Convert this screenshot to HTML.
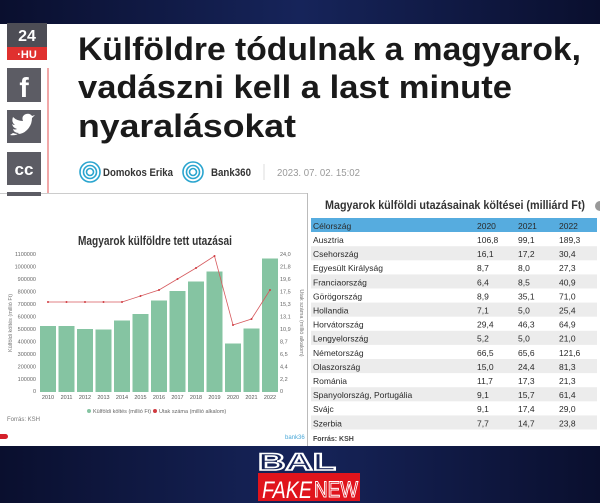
<!DOCTYPE html>
<html><head><meta charset="utf-8"><style>
html,body{margin:0;padding:0;background:#0b1230;}
svg{display:block}
</style></head><body>
<svg width="600" height="503" viewBox="0 0 600 503" xmlns="http://www.w3.org/2000/svg" font-family="Liberation Sans, sans-serif">
<defs>
<linearGradient id="bg" x1="0" y1="0" x2="1" y2="0">
<stop offset="0" stop-color="#0a0f2e"/><stop offset="0.5" stop-color="#16245a"/><stop offset="1" stop-color="#0a0f2e"/>
</linearGradient>
</defs>
<rect width="600" height="503" fill="url(#bg)"/>
<rect x="0" y="24" width="600" height="170" fill="#fff"/>
<rect x="7" y="23" width="40" height="24" fill="#4d4d55"/>
<text x="27" y="41" font-size="16" font-weight="bold" fill="#fff" text-anchor="middle">24</text>
<rect x="7" y="47" width="40" height="13" fill="#e0312f"/>
<text x="27" y="58" font-size="11" font-weight="bold" fill="#fff" text-anchor="middle">·HU</text>
<line x1="48" y1="68" x2="48" y2="194" stroke="#e35050" stroke-width="1"/>
<rect x="7" y="68" width="34" height="34" fill="#5c5c64"/>
<text x="24" y="97" font-size="28" font-weight="bold" fill="#fff" text-anchor="middle">f</text>
<rect x="7" y="110" width="34" height="33" fill="#5c5c64"/>
<path d="M13 133 q8 3 14 -3 q5 -5 5 -12 l3 -3 -3 1 q-2 -3 -6 -2 q-5 2 -3 7 q-6 0 -10 -4 q-2 5 2 8 q-2 0 -3 -1 q1 4 5 5 q-2 1 -4 0 q1 4 6 4 q-3 3 -9 2z" fill="#fff"/>
<rect x="7" y="152" width="34" height="33" fill="#5c5c64"/>
<text x="24" y="175" font-size="17" font-weight="bold" fill="#fff" text-anchor="middle">cc</text>
<rect x="7" y="192" width="34" height="2" fill="#5c5c64"/>
<g font-size="32" font-weight="bold" fill="#1a1a1a">
<text x="78" y="60" textLength="503" lengthAdjust="spacingAndGlyphs">Külföldre tódulnak a magyarok,</text>
<text x="78" y="98" textLength="434" lengthAdjust="spacingAndGlyphs">vadászni kell a last minute</text>
<text x="78" y="137" textLength="218" lengthAdjust="spacingAndGlyphs">nyaralásokat</text>
</g>
<g fill="none" stroke="#2aa5cf" stroke-width="1.6">
<circle cx="90" cy="172" r="10"/><circle cx="90" cy="172" r="6.5"/><circle cx="90" cy="172" r="3.5"/>
<circle cx="193" cy="172" r="10"/><circle cx="193" cy="172" r="6.5"/><circle cx="193" cy="172" r="3.5"/>
</g>
<text x="103" y="176" font-size="11" font-weight="bold" fill="#333" textLength="70" lengthAdjust="spacingAndGlyphs">Domokos Erika</text>
<text x="211" y="176" font-size="11" font-weight="bold" fill="#333" textLength="40" lengthAdjust="spacingAndGlyphs">Bank360</text>
<line x1="264" y1="164" x2="264" y2="180" stroke="#ddd"/>
<text x="277" y="176" font-size="10.5" fill="#999" textLength="83" lengthAdjust="spacingAndGlyphs">2023. 07. 02. 15:02</text>

<rect x="0" y="193" width="308" height="253" fill="#fff"/>
<line x1="0" y1="193.5" x2="600" y2="193.5" stroke="#ccc"/>
<rect x="7" y="193" width="34" height="3" fill="#5c5c64"/>
<text x="155" y="245" font-size="13" font-weight="bold" fill="#333" text-anchor="middle" textLength="154" lengthAdjust="spacingAndGlyphs">Magyarok külföldre tett utazásai</text>
<g font-size="5.5" fill="#666" text-anchor="end">
<text x="36" y="256">1100000</text><text x="36" y="268.5">1000000</text><text x="36" y="281">900000</text><text x="36" y="293.5">800000</text><text x="36" y="306">700000</text><text x="36" y="318.5">600000</text><text x="36" y="331">500000</text><text x="36" y="343.5">400000</text><text x="36" y="356">300000</text><text x="36" y="368.5">200000</text><text x="36" y="381">100000</text><text x="36" y="393">0</text>
</g>
<g font-size="5.5" fill="#666">
<text x="280" y="256">24,0</text><text x="280" y="268.5">21,8</text><text x="280" y="281">19,6</text><text x="280" y="293.5">17,5</text><text x="280" y="306">15,3</text><text x="280" y="318.5">13,1</text><text x="280" y="331">10,9</text><text x="280" y="343.5">8,7</text><text x="280" y="356">6,5</text><text x="280" y="368.5">4,4</text><text x="280" y="381">2,2</text><text x="280" y="393">0</text>
</g>
<text transform="translate(12,323) rotate(-90)" font-size="5.5" fill="#777" text-anchor="middle">Külföldi költés (millió Ft)</text>
<text transform="translate(300,323) rotate(90)" font-size="5.5" fill="#777" text-anchor="middle">Utak száma (millió alkalom)</text>
<g fill="#85c4a2">
<rect x="40" y="326" width="16" height="66"/>
<rect x="58.5" y="326" width="16" height="66"/>
<rect x="77" y="329" width="16" height="63"/>
<rect x="95.5" y="329.5" width="16" height="62.5"/>
<rect x="114" y="320.5" width="16" height="71.5"/>
<rect x="132.5" y="314" width="16" height="78"/>
<rect x="151" y="300.5" width="16" height="91.5"/>
<rect x="169.5" y="291" width="16" height="101"/>
<rect x="188" y="281.5" width="16" height="110.5"/>
<rect x="206.5" y="271.5" width="16" height="120.5"/>
<rect x="225" y="343.5" width="16" height="48.5"/>
<rect x="243.5" y="328.5" width="16" height="63.5"/>
<rect x="262" y="258.5" width="16" height="133.5"/>
</g>
<polyline points="48,302 66.5,302 85,302 103.5,302 122,302 140.5,296 159,290 177.5,279 196,268 214.5,256 233,325 251.5,319 270,290" fill="none" stroke="#d65a5e" stroke-width="0.8"/>
<g fill="#d03a40">
<circle cx="48" cy="302" r="1"/><circle cx="66.5" cy="302" r="1"/><circle cx="85" cy="302" r="1"/><circle cx="103.5" cy="302" r="1"/><circle cx="122" cy="302" r="1"/><circle cx="140.5" cy="296" r="1"/><circle cx="159" cy="290" r="1"/><circle cx="177.5" cy="279" r="1"/><circle cx="196" cy="268" r="1"/><circle cx="214.5" cy="256" r="1"/><circle cx="233" cy="325" r="1"/><circle cx="251.5" cy="319" r="1"/><circle cx="270" cy="290" r="1"/>
</g>
<g font-size="5.5" fill="#555" text-anchor="middle">
<text x="48" y="399">2010</text><text x="66.5" y="399">2011</text><text x="85" y="399">2012</text><text x="103.5" y="399">2013</text><text x="122" y="399">2014</text><text x="140.5" y="399">2015</text><text x="159" y="399">2016</text><text x="177.5" y="399">2017</text><text x="196" y="399">2018</text><text x="214.5" y="399">2019</text><text x="233" y="399">2020</text><text x="251.5" y="399">2021</text><text x="270" y="399">2022</text>
</g>
<circle cx="89" cy="411" r="2" fill="#85c4a2"/>
<text x="93" y="413" font-size="5.5" fill="#666">Külföldi költés (millió Ft)</text>
<circle cx="155" cy="411" r="2" fill="#d03a40"/>
<text x="159" y="413" font-size="5.5" fill="#666">Utak száma (millió alkalom)</text>
<text x="7" y="421" font-size="6" fill="#777">Forrás: KSH</text>
<rect x="-4" y="434" width="12" height="5" rx="2.5" fill="#d4202a"/>
<text x="285" y="439" font-size="6" fill="#4aa8d8">bank36</text>

<rect x="308" y="193" width="292" height="253" fill="#fff"/>
<line x1="307.5" y1="193" x2="307.5" y2="446" stroke="#bbb"/>
<circle cx="600" cy="206" r="5" fill="#999"/>
<text x="325" y="209" font-size="11.5" font-weight="bold" fill="#333" textLength="260" lengthAdjust="spacingAndGlyphs">Magyarok külföldi utazásainak költései (milliárd Ft)</text>
<rect x="311" y="218" width="286" height="14" fill="#56acdf"/>
<g font-size="8.5" fill="#2a2a2a">
<text x="313" y="229">Célország</text><text x="477" y="229">2020</text><text x="518" y="229">2021</text><text x="559" y="229">2022</text>
</g>
<g fill="#ececec">
<rect x="311" y="246.2" width="286" height="14.1"/>
<rect x="311" y="274.4" width="286" height="14.1"/>
<rect x="311" y="302.6" width="286" height="14.1"/>
<rect x="311" y="330.8" width="286" height="14.1"/>
<rect x="311" y="359" width="286" height="14.1"/>
<rect x="311" y="387.2" width="286" height="14.1"/>
<rect x="311" y="415.4" width="286" height="14.1"/>
</g>
<g font-size="8.5" fill="#2a2a2a">
<text x="313" y="243">Ausztria</text><text x="477" y="243">106,8</text><text x="518" y="243">99,1</text><text x="559" y="243">189,3</text>
<text x="313" y="257">Csehország</text><text x="477" y="257">16,1</text><text x="518" y="257">17,2</text><text x="559" y="257">30,4</text>
<text x="313" y="271.2">Egyesült Királyság</text><text x="477" y="271.2">8,7</text><text x="518" y="271.2">8,0</text><text x="559" y="271.2">27,3</text>
<text x="313" y="285.3">Franciaország</text><text x="477" y="285.3">6,4</text><text x="518" y="285.3">8,5</text><text x="559" y="285.3">40,9</text>
<text x="313" y="299.4">Görögország</text><text x="477" y="299.4">8,9</text><text x="518" y="299.4">35,1</text><text x="559" y="299.4">71,0</text>
<text x="313" y="313.5">Hollandia</text><text x="477" y="313.5">7,1</text><text x="518" y="313.5">5,0</text><text x="559" y="313.5">25,4</text>
<text x="313" y="327.6">Horvátország</text><text x="477" y="327.6">29,4</text><text x="518" y="327.6">46,3</text><text x="559" y="327.6">64,9</text>
<text x="313" y="341.7">Lengyelország</text><text x="477" y="341.7">5,2</text><text x="518" y="341.7">5,0</text><text x="559" y="341.7">21,0</text>
<text x="313" y="355.8">Németország</text><text x="477" y="355.8">66,5</text><text x="518" y="355.8">65,6</text><text x="559" y="355.8">121,6</text>
<text x="313" y="369.9">Olaszország</text><text x="477" y="369.9">15,0</text><text x="518" y="369.9">24,4</text><text x="559" y="369.9">81,3</text>
<text x="313" y="384">Románia</text><text x="477" y="384">11,7</text><text x="518" y="384">17,3</text><text x="559" y="384">21,3</text>
<text x="313" y="398.1">Spanyolország, Portugália</text><text x="477" y="398.1">9,1</text><text x="518" y="398.1">15,7</text><text x="559" y="398.1">61,4</text>
<text x="313" y="412.2">Svájc</text><text x="477" y="412.2">9,1</text><text x="518" y="412.2">17,4</text><text x="559" y="412.2">29,0</text>
<text x="313" y="426.3">Szerbia</text><text x="477" y="426.3">7,7</text><text x="518" y="426.3">14,7</text><text x="559" y="426.3">23,8</text>
</g>
<text x="313" y="441" font-size="7" font-weight="bold" fill="#444">Forrás: KSH</text>
<g fill="none" stroke="#fff" stroke-width="1.6" font-size="24" font-weight="bold">
<text x="258" y="470" textLength="78" lengthAdjust="spacingAndGlyphs">BAL</text>
</g>
<rect x="258" y="473" width="102" height="28" fill="#e0141c"/>
<text x="262" y="498" font-size="24" font-style="italic" fill="#fff" textLength="50" lengthAdjust="spacingAndGlyphs">FAKE</text>
<text x="314" y="497" font-size="22" fill="none" stroke="#fff" stroke-width="1" textLength="44" lengthAdjust="spacingAndGlyphs">NEW</text>
</svg>
</body></html>
